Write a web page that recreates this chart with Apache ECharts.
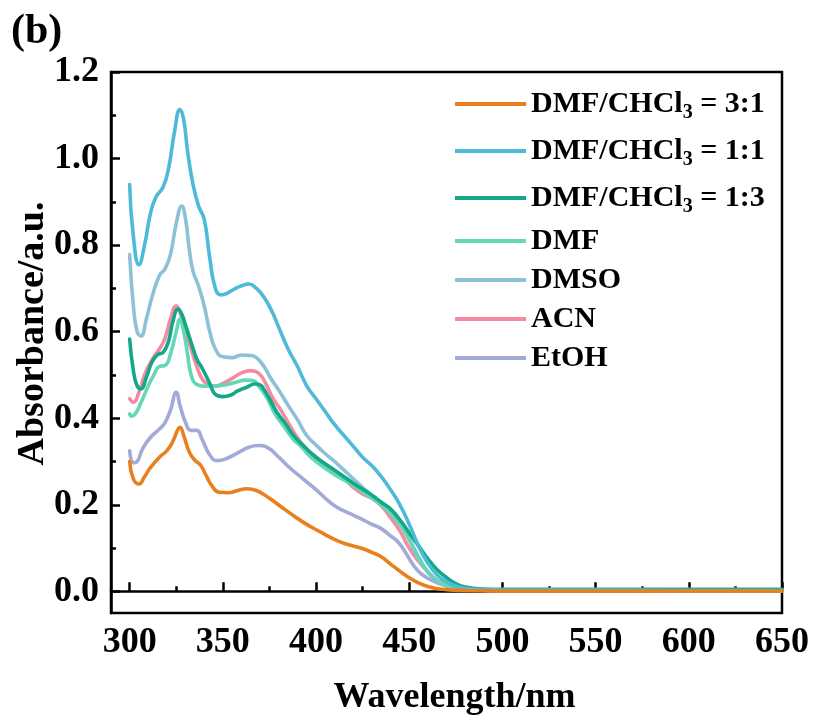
<!DOCTYPE html>
<html>
<head>
<meta charset="utf-8">
<script src="https://cdn.jsdelivr.net/npm/echarts@6/dist/echarts.min.js"></script>
<style>
html,body{margin:0;padding:0;background:#fff;}
#chart{width:814px;height:722px;}
</style>
</head>
<body>
<div id="chart"></div>
<script>
// ---- data ----
const seriesNames = ['DMF/CHCl3 = 3:1','DMF/CHCl3 = 1:1','DMF/CHCl3 = 1:3','DMF','DMSO','ACN','EtOH'];
const seriesColors = ['#E8801E','#4DBBD8','#13A88A','#62D8B4','#8CC1D8','#F58BA0','#A2AAD8'];

const wl_31  = [300,302,305,308,311,316,320,323,326,327,329,332,335,338,341,344,348,353,358,363,368,375,383,393,402,411,418,424,430,435,440,444,448,453,458,463,470,480,500,650];
const abs_31 = [0.30,0.26,0.248,0.265,0.285,0.31,0.325,0.345,0.375,0.379,0.36,0.322,0.303,0.292,0.268,0.245,0.229,0.228,0.233,0.237,0.233,0.215,0.19,0.16,0.138,0.118,0.107,0.10,0.09,0.08,0.063,0.05,0.037,0.024,0.014,0.008,0.004,0.002,0.001,0.001];

const wl_11  = [300,302,305,308,311,314,318,321,324,327,329,331,334,337,340,343,346,349,352,356,360,364,368,372,376,380,385,390,395,400,405,410,415,420,425,430,435,440,445,450,455,460,465,470,475,480,490,500,550,600,650];
const abs_11 = [0.94,0.82,0.755,0.80,0.87,0.91,0.935,0.98,1.06,1.113,1.09,1.02,0.94,0.89,0.86,0.77,0.70,0.685,0.688,0.698,0.706,0.71,0.70,0.68,0.65,0.61,0.56,0.52,0.475,0.445,0.415,0.385,0.36,0.335,0.31,0.29,0.265,0.235,0.20,0.155,0.105,0.065,0.038,0.022,0.012,0.007,0.004,0.003,0.003,0.002,0.002];

const wl_13  = [300,302,304,306,309,312,315,318,321,323,326,328,330,333,336,339,343,346,350,354,358,363,367,370,372,375,379,384,388,395,400,410,420,430,435,440,445,450,455,460,465,470,475,480,490,500,650];
const abs_13 = [0.583,0.51,0.475,0.468,0.495,0.53,0.547,0.552,0.58,0.62,0.652,0.64,0.615,0.575,0.537,0.515,0.48,0.455,0.45,0.453,0.463,0.472,0.479,0.477,0.467,0.445,0.414,0.385,0.36,0.329,0.31,0.28,0.25,0.222,0.206,0.19,0.165,0.135,0.105,0.075,0.05,0.032,0.018,0.01,0.005,0.004,0.004];

const wl_dmf  = [300,301,303,306,310,313,316,319,322,325,327,329,331,333,336,340,347,352,357,362,366,370,374,378,383,388,392,396,400,410,420,430,435,440,445,450,455,460,465,470,475,480,500,650];
const abs_dmf = [0.41,0.405,0.41,0.435,0.475,0.50,0.52,0.522,0.55,0.60,0.629,0.60,0.55,0.50,0.478,0.474,0.475,0.478,0.483,0.488,0.487,0.47,0.445,0.41,0.38,0.35,0.335,0.315,0.30,0.27,0.245,0.215,0.20,0.18,0.155,0.12,0.08,0.045,0.025,0.013,0.008,0.005,0.004,0.004];

const wl_dmso  = [300,302,304,306,309,312,316,319,322,325,328,330,332,334,337,340,343,346,350,355,360,365,368,372,376,380,385,390,395,400,405,410,415,420,425,430,435,440,445,450,455,460,465,470,475,480,490,500,550,600,650];
const abs_dmso = [0.778,0.66,0.60,0.59,0.63,0.68,0.73,0.745,0.78,0.85,0.89,0.86,0.79,0.74,0.705,0.66,0.60,0.56,0.542,0.540,0.546,0.545,0.54,0.52,0.49,0.465,0.43,0.397,0.36,0.338,0.318,0.30,0.28,0.26,0.24,0.222,0.205,0.19,0.16,0.12,0.075,0.045,0.025,0.014,0.008,0.005,0.004,0.003,0.003,0.003,0.003];

const wl_acn  = [300,302,305,308,312,316,319,322,325,327,330,333,336,339,342,346,350,355,360,365,369,373,377,381,386,390,395,400,405,410,415,420,425,430,435,440,445,450,455,460,465,470,475,480,490,500,650];
const abs_acn = [0.445,0.437,0.46,0.50,0.535,0.56,0.585,0.63,0.66,0.645,0.60,0.56,0.52,0.49,0.478,0.474,0.48,0.492,0.505,0.51,0.505,0.48,0.445,0.42,0.383,0.355,0.329,0.31,0.29,0.27,0.26,0.24,0.225,0.215,0.198,0.17,0.14,0.10,0.07,0.045,0.025,0.014,0.007,0.004,0.002,0.001,0.001];

const wl_etoh  = [300,302,304,307,311,316,319,322,325,327,330,333,336,339,343,347,352,358,364,369,374,380,386,393,400,405,411,418,424,430,435,440,444,448,452,456,461,466,471,476,482,500,650];
const abs_etoh = [0.325,0.297,0.30,0.33,0.355,0.375,0.39,0.42,0.46,0.43,0.39,0.372,0.372,0.35,0.315,0.302,0.307,0.32,0.333,0.337,0.332,0.31,0.285,0.26,0.235,0.215,0.195,0.18,0.168,0.155,0.145,0.128,0.114,0.09,0.062,0.042,0.028,0.018,0.012,0.007,0.005,0.004,0.004];

const xMajorTicks = [300,350,400,450,500,550,600,650];
const xMinorTicks = [325,375,425,475,525,575,625];
const yMajorTicks = [0.0,0.2,0.4,0.6,0.8,1.0,1.2];
const yMinorTicks = [0.1,0.3,0.5,0.7,0.9,1.1];

const xTitle = 'Wavelength/nm';
const yTitle = 'Absorbance/a.u.';
const panelLabel = '(b)';

const wlSets  = [wl_31, wl_11, wl_13, wl_dmf, wl_dmso, wl_acn, wl_etoh];
const absSets = [abs_31, abs_11, abs_13, abs_dmf, abs_dmso, abs_acn, abs_etoh];

// ---- chart ----
const FONT = "'Times New Roman','Liberation Serif',serif";
const chart = echarts.init(document.getElementById('chart'), null, {renderer:'canvas'});

const series = seriesNames.map((name, i) => ({
  name: name,
  type: 'line',
  xAxisIndex: 0,
  yAxisIndex: 0,
  data: wlSets[i].map((w, k) => [w, absSets[i][k]]),
  showSymbol: false,
  smooth: 0.5,
  lineStyle: {width: 3.6, color: seriesColors[i], cap: 'round', join: 'round'},
  itemStyle: {color: seriesColors[i]},
  z: 10 - i
}));

function legendFmt(name){
  const m = name.match(/^(.*CHCl)3(.*)$/);
  if (m) return '{a|' + m[1] + '}{sub|3}{a|' + m[2] + '}';
  return '{a|' + name + '}';
}

const axisLineStyle = {color:'#000', width:2.5};

chart.setOption({
  animation: false,
  backgroundColor: '#fff',
  title: {
    text: panelLabel, left: 6, top: 6,
    textStyle: {fontFamily: FONT, fontWeight: 'bold', fontSize: 42, color: '#000'}
  },
  grid: {left: 111, right: 32, top: 72, bottom: 109, show: true, borderColor: '#000', borderWidth: 2.5, backgroundColor: 'transparent'},
  legend: {
    orient: 'vertical', left: 450, top: 80,
    itemWidth: 71, itemHeight: 4, itemGap: 9,
    icon: 'rect',
    data: seriesNames,
    formatter: legendFmt,
    textStyle: {
      fontFamily: FONT, fontWeight: 'bold', fontSize: 30, color: '#000',
      rich: {
        a: {fontFamily: FONT, fontWeight: 'bold', fontSize: 30, color: '#000', lineHeight: 34},
        sub: {fontFamily: FONT, fontWeight: 'bold', fontSize: 20, color: '#000', padding: [18,0,0,0], lineHeight: 22}
      }
    }
  },
  xAxis: [
    {
      type: 'value', min: 290, max: 650, position: 'bottom',
      name: xTitle, nameLocation: 'middle', nameGap: 67, nameMoveOverlap: false,
      nameTextStyle: {fontFamily: FONT, fontWeight: 'bold', fontSize: 36, color: '#000', padding: [0,0,0,16]},
      axisLine: {show: true, lineStyle: axisLineStyle},
      axisTick: {show: true, inside: true, length: 9, lineStyle: {color:'#000', width: 2.5}, customValues: xMajorTicks},
      axisLabel: {show: true, margin: 12, customValues: xMajorTicks, fontFamily: FONT, fontWeight: 'bold', fontSize: 36, color: '#000', showMinLabel: true, showMaxLabel: true},
      splitLine: {show: false}
    },
    {
      type: 'value', min: 290, max: 650, position: 'bottom',
      axisLine: {show: false},
      axisTick: {show: true, inside: true, length: 5, lineStyle: {color:'#000', width: 2.5}, customValues: xMinorTicks},
      axisLabel: {show: false},
      splitLine: {show: false}
    }
  ],
  yAxis: [
    {
      type: 'value', min: -0.05, max: 1.2, position: 'left',
      name: yTitle, nameLocation: 'middle', nameGap: 59, nameRotate: 90, nameMoveOverlap: false,
      nameTextStyle: {fontFamily: FONT, fontWeight: 'bold', fontSize: 38, color: '#000', padding: [0,0,0,18]},
      axisLine: {show: true, lineStyle: axisLineStyle},
      axisTick: {show: true, inside: true, length: 9, lineStyle: {color:'#000', width: 2.5}, customValues: yMajorTicks},
      axisLabel: {show: true, margin: 12, customValues: yMajorTicks, formatter: v => v.toFixed(1), fontFamily: FONT, fontWeight: 'bold', fontSize: 36, color: '#000'},
      splitLine: {show: false}
    },
    {
      type: 'value', min: -0.05, max: 1.2, position: 'left',
      axisLine: {show: false},
      axisTick: {show: true, inside: true, length: 5, lineStyle: {color:'#000', width: 2.5}, customValues: yMinorTicks},
      axisLabel: {show: false},
      splitLine: {show: false}
    }
  ],
  series: series
});
</script>
</body>
</html>
